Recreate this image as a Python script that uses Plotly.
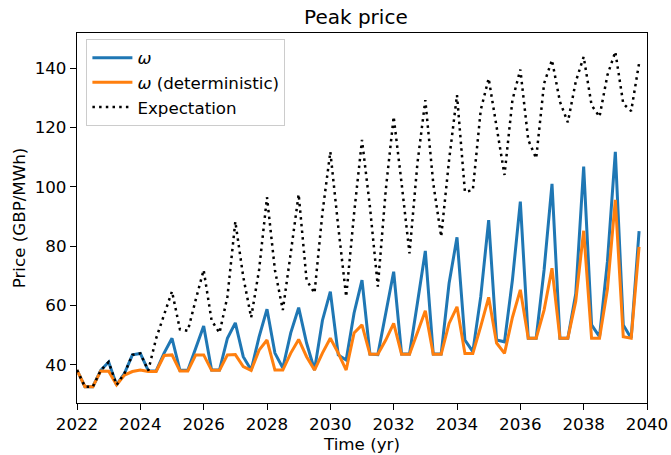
import plotly.graph_objects as go

# Quarterly time points 2022.00 ... 2039.75
time_yr = [2022 + 0.25 * i for i in range(72)]

omega = [
    38.3, 32.7, 32.7, 38.2,
    41.0, 33.3, 37.2, 43.4,
    43.9, 38.1, 38.0, 44.0,
    49.0, 38.2, 38.2, 46.0,
    53.1, 38.3, 38.3, 49.0,
    54.2, 42.8, 38.3, 49.5,
    58.8, 44.0, 39.0, 50.8,
    59.3, 47.4, 38.3, 55.0,
    64.7, 43.4, 41.7, 57.5,
    68.6, 43.7, 43.5, 57.4,
    71.4, 43.7, 43.7, 60.9,
    78.4, 43.7, 43.7, 67.5,
    83.0, 48.4, 44.5, 63.0,
    88.8, 48.4, 47.8, 68.6,
    95.0, 49.0, 49.0, 72.0,
    101.0, 49.0, 49.0, 64.0,
    106.8, 53.5, 49.5, 74.8,
    111.8, 53.5, 49.0, 85.1,
]

omega_det = [
    38.3, 32.7, 32.7, 38.0,
    37.9, 33.3, 36.6, 37.8,
    38.3, 37.8, 37.8, 43.2,
    43.4, 38.0, 38.0, 43.4,
    43.4, 38.2, 38.2, 43.4,
    43.5, 39.5, 38.2, 45.0,
    48.4, 38.3, 38.3, 44.0,
    48.6, 42.8, 38.3, 44.0,
    49.0, 44.0, 38.3, 50.8,
    53.5, 43.6, 43.6, 48.4,
    54.0, 43.6, 43.6, 50.8,
    58.3, 43.6, 43.6, 54.0,
    59.6, 43.9, 43.9, 53.0,
    62.8, 47.4, 43.9, 56.0,
    65.3, 49.0, 49.0, 58.5,
    72.6, 49.0, 49.0, 61.5,
    85.2, 49.0, 49.0, 65.5,
    95.6, 49.5, 49.0, 79.8,
]

expectation = [
    38.3, 32.7, 32.7, 38.2,
    41.0, 33.3, 37.2, 43.4,
    43.9, 38.1, 49.0, 57.0,
    64.8, 52.0, 51.5, 62.0,
    72.0, 55.0, 50.8, 63.0,
    88.3, 69.7, 56.0, 72.0,
    96.5, 72.0, 58.5, 77.7,
    97.5, 68.6, 64.2, 91.2,
    111.8, 86.6, 63.0, 91.0,
    115.8, 93.3, 66.4, 98.9,
    123.6, 101.2, 77.6, 107.9,
    129.2, 101.2, 83.2, 109.0,
    130.9, 98.3, 98.9, 125.9,
    136.5, 120.2, 104.0, 129.2,
    139.5, 115.8, 109.6, 134.8,
    142.7, 128.7, 121.7, 135.4,
    143.8, 127.5, 123.6, 137.6,
    145.5, 128.0, 125.5, 141.6,
]

x_ticks = [2022, 2024, 2026, 2028, 2030, 2032, 2034, 2036, 2038, 2040]
y_ticks = [40, 60, 80, 100, 120, 140]

FONT = "DejaVu Sans"
FS = 16.7

fig = go.Figure()
fig.add_trace(go.Scatter(x=time_yr, y=omega, mode="lines", name="<i>ω</i>",
                         line=dict(color="#1f77b4", width=3)))
fig.add_trace(go.Scatter(x=time_yr, y=omega_det, mode="lines", name="<i>ω</i> (deterministic)",
                         line=dict(color="#ff7f0e", width=3)))
fig.add_trace(go.Scatter(x=time_yr, y=expectation, mode="lines", name="Expectation",
                         line=dict(color="black", width=2.5, dash="2.5px,4.2px")))

axis_common = dict(showline=True, linecolor="black", linewidth=1.3, mirror=True,
                   ticks="outside", ticklen=6, tickwidth=1.3, tickcolor="black",
                   showgrid=False, zeroline=False, automargin=False,
                   tickfont=dict(family=FONT, size=FS, color="black"))

fig.update_xaxes(range=[2022, 2040], tickvals=x_ticks,
                 title=dict(text="Time (yr)", font=dict(family=FONT, size=FS, color="black"), standoff=3),
                 **axis_common)
fig.update_yaxes(range=[27.2, 151.8], tickvals=y_ticks,
                 title=dict(text="Price (GBP/MWh)", font=dict(family=FONT, size=FS, color="black"), standoff=4),
                 **axis_common)

fig.update_layout(
    width=671, height=455,
    margin=dict(l=77, r=24, t=33, b=52, autoexpand=False),
    plot_bgcolor="white", paper_bgcolor="white",
    font=dict(family=FONT, size=FS, color="black"),
    title=dict(text="Peak price", x=0.5304, xanchor="center", y=1 - 16.5 / 455, yanchor="middle",
               font=dict(family=FONT, size=20, color="black")),
    legend=dict(x=0.0165, y=0.983, xanchor="left", yanchor="top",
                bgcolor="white", bordercolor="#cccccc", borderwidth=1,
                font=dict(family=FONT, size=FS, color="black"),
                itemwidth=40, tracegroupgap=0),
    showlegend=True,
)

fig.write_html("out.html",
               config={"displayModeBar": False},
               post_script="document.body.style.margin='0';document.body.style.overflow='hidden';")
